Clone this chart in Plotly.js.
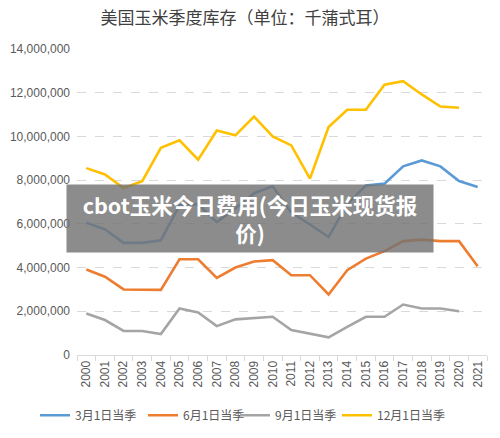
<!DOCTYPE html>
<html><head><meta charset="utf-8">
<script src="https://cdn.plot.ly/plotly-3.0.1.min.js"></script>
<style>body{margin:0;background:#fff}#c{width:500px;height:438px}</style>
</head><body><div id="c"></div>
<script>
const years = ["2000","2001","2002","2003","2004","2005","2006","2007","2008","2009","2010","2011","2012","2013","2014","2015","2016","2017","2018","2019","2020","2021"];
const mar1 = [6050000,5750000,5130000,5130000,5250000,6850000,6900000,6080000,6700000,7400000,7720000,6520000,5970000,5400000,6900000,7760000,7840000,8630000,8900000,8630000,7960000,7690000];
const jun1 = [3910000,3580000,3000000,2980000,2980000,4380000,4380000,3530000,4000000,4280000,4340000,3650000,3650000,2770000,3880000,4410000,4750000,5210000,5280000,5210000,5210000,4060000];
const sep1 = [1900000,1600000,1100000,1100000,960000,2130000,1950000,1320000,1630000,1690000,1750000,1140000,990000,810000,1290000,1750000,1750000,2310000,2130000,2130000,2000000,null];
const dec1 = [8550000,8260000,7640000,7950000,9480000,9820000,8940000,10270000,10050000,10910000,10000000,9590000,8070000,10430000,11220000,11220000,12370000,12530000,11920000,11370000,11310000,null];
const names = ["3月1日当季","6月1日当季","9月1日当季","12月1日当季"];
const chartTitle = "美国玉米季度库存（单位：千蒲式耳）";
const overlayText = "cbot玉米今日费用(今日玉米现货报<br>价)";

const colors = ["#5B9BD5","#ED7D31","#A5A5A5","#FFC000"];
const series = [mar1, jun1, sep1, dec1];
const legendIds = ["legend","legend2","legend3","legend4"];
const legendX = [0.07, 0.286, 0.47, 0.674];
const traces = series.map((s,i)=>({
  type:"scatter", mode:"lines", x:years, y:s, name:names[i], legend:legendIds[i],
  line:{color:colors[i], width:2.6}, connectgaps:false
}));
const F = "Liberation Sans, Noto Sans CJK SC, sans-serif";
const layout = {
  width:500, height:438,
  margin:{l:77, r:13, t:49, b:83, autoexpand:false},
  paper_bgcolor:"#fff", plot_bgcolor:"#fff",
  font:{family:F, size:12, color:"#595959"},
  title:{text:chartTitle, x:0.49, xanchor:"center", y:0.958, yanchor:"middle",
    font:{family:"Noto Sans CJK SC, sans-serif", size:17, color:"#404040"}},
  xaxis:{type:"category", tickangle:-90, showgrid:false, showline:true, linecolor:"#d9d9d9",
    ticks:"outside", tickson:"boundaries", ticklen:5, tickcolor:"#d9d9d9",
    tickfont:{size:12, color:"#595959"}, range:[-0.5,21.5], automargin:false},
  yaxis:{range:[0,14000000], dtick:2000000, tickformat:",d", showgrid:true,
    gridcolor:"#d9d9d9", griddash:"dash", gridwidth:1, zeroline:false, showline:false,
    ticks:"", ticklabelstandoff:6, tickfont:{size:12, color:"#595959"}, automargin:false},
  showlegend:true,
  annotations:[{
    text:overlayText, xref:"paper", yref:"paper", x:0.422, y:0.446,
    xanchor:"center", yanchor:"middle", showarrow:false,
    width:362, height:63, bgcolor:"rgba(115,115,115,0.82)", borderpad:2,
    align:"center", valign:"middle",
    font:{family:"Noto Sans CJK SC, sans-serif", size:21.5, color:"#ffffff", weight:"bold"}
  }]
};
legendIds.forEach((id,i)=>{
  layout[id] = {orientation:"h", xref:"container", x:legendX[i], xanchor:"left",
    yref:"container", y:0.052, yanchor:"middle", bgcolor:"rgba(0,0,0,0)",
    font:{family:"Noto Sans CJK SC, sans-serif", size:12, color:"#595959"}, itemwidth:30};
});
Plotly.newPlot("c", traces, layout, {displayModeBar:false, staticPlot:true});
</script></body></html>
